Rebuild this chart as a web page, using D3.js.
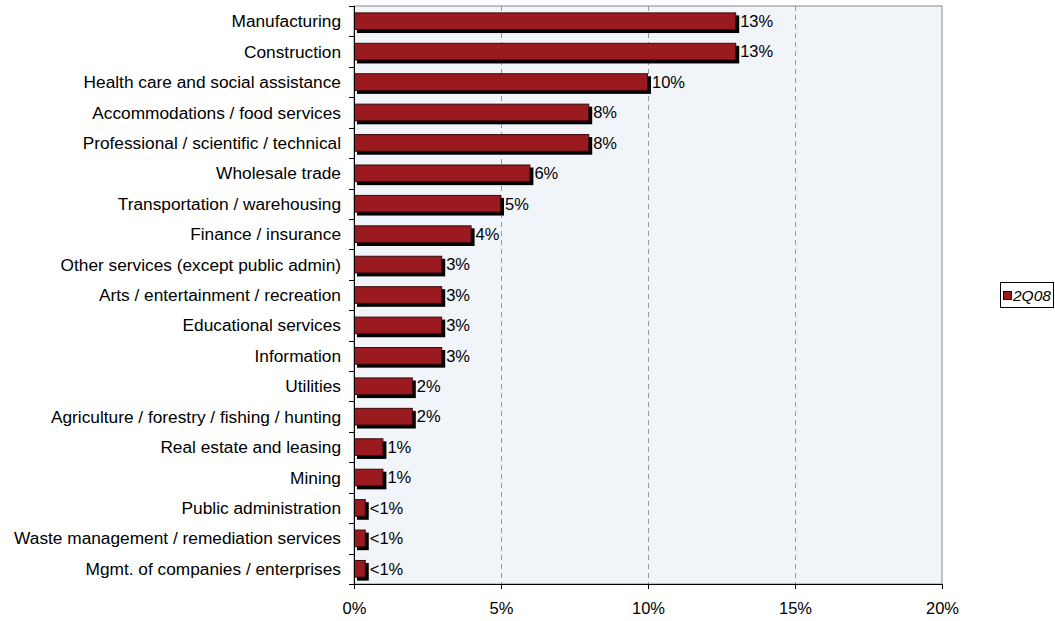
<!DOCTYPE html>
<html>
<head>
<meta charset="utf-8">
<script src="https://cdn.jsdelivr.net/npm/d3@7"></script>
<style>
  body { margin: 0; background: #fff; }
  text { font-family: "Liberation Sans", Arial, sans-serif; }
</style>
</head>
<body>
<svg id="chart" width="1055" height="621"></svg>
<script>
// categories, top to bottom
const categories = ["Manufacturing", "Construction", "Health care and social assistance",
  "Accommodations / food services", "Professional / scientific / technical", "Wholesale trade",
  "Transportation / warehousing", "Finance / insurance", "Other services (except public admin)",
  "Arts / entertainment / recreation", "Educational services", "Information", "Utilities",
  "Agriculture / forestry / fishing / hunting", "Real estate and leasing", "Mining",
  "Public administration", "Waste management / remediation services", "Mgmt. of companies / enterprises"]
const values = [13, 13, 10, 8, 8, 6, 5, 4, 3, 3, 3, 3, 2, 2, 1, 1, 0.4, 0.4, 0.4]
const valueLabels = ["13%", "13%", "10%", "8%", "8%", "6%", "5%", "4%", "3%", "3%", "3%", "3%",
  "2%", "2%", "1%", "1%", "<1%", "<1%", "<1%"]
const xTicks = [0, 5, 10, 15, 20]
const seriesName = "2Q08"

const BAR_COLOR = "#9A1A20"
const SHADOW = 3

const svg = d3.select('#chart')
const margin = { left: 354, top: 6, right: 113, bottom: 37 }
const width = 1055 - margin.left - margin.right
const height = 621 - margin.top - margin.bottom

const g = svg.append('g').attr('transform', `translate(${margin.left}, ${margin.top})`)

const x = d3.scaleLinear().domain([0, 20]).range([0, width])
const y = d3.scaleBand().domain(categories).range([0, height]).paddingInner(0.42).paddingOuter(0.21)
const band = d3.scaleBand().domain(categories).range([0, height])

// plot background
g.append('rect')
  .attr('width', width).attr('height', height)
  .attr('fill', '#F1F5FA')
  .attr('stroke', '#888').attr('stroke-width', 1)

// dashed gridlines
g.selectAll('.grid')
  .data(xTicks.filter(t => t > 0 && t < 20))
  .enter().append('line')
  .attr('x1', d => Math.round(x(d)) + 0.5).attr('x2', d => Math.round(x(d)) + 0.5)
  .attr('y1', 0).attr('y2', height)
  .attr('stroke', '#999').attr('stroke-dasharray', '5,4')

// bars: shadow then bar
const rows = g.selectAll('.row').data(categories).enter().append('g')

rows.append('rect')
  .attr('x', SHADOW)
  .attr('y', d => y(d) + SHADOW)
  .attr('width', (d, i) => x(values[i]))
  .attr('height', y.bandwidth())
  .attr('fill', '#000')

rows.append('rect')
  .attr('x', 0.5)
  .attr('y', d => y(d) + 0.5)
  .attr('width', (d, i) => x(values[i]) - 1)
  .attr('height', y.bandwidth() - 1)
  .attr('fill', BAR_COLOR)
  .attr('stroke', '#3a0a0c').attr('stroke-width', 1)

rows.append('text')
  .attr('x', (d, i) => x(values[i]) + SHADOW + 1)
  .attr('y', d => band(d) + band.bandwidth() / 2)
  .attr('dy', '0.35em')
  .attr('font-size', 16.5)
  .attr('fill', '#000')
  .text((d, i) => valueLabels[i])

// y axis
const yAxis = g.append('g')
yAxis.append('line')
  .attr('x1', 0.5).attr('x2', 0.5).attr('y1', 0).attr('y2', height)
  .attr('stroke', '#000')
yAxis.selectAll('.ytick')
  .data(d3.range(categories.length + 1))
  .enter().append('line')
  .attr('x1', -5).attr('x2', 0)
  .attr('y1', d => Math.round(d * band.step()) + 0.5)
  .attr('y2', d => Math.round(d * band.step()) + 0.5)
  .attr('stroke', '#000')
yAxis.selectAll('.ylabel')
  .data(categories)
  .enter().append('text')
  .attr('x', -13)
  .attr('y', d => band(d) + band.bandwidth() / 2)
  .attr('dy', '0.35em')
  .attr('text-anchor', 'end')
  .attr('font-size', 17.3)
  .text(d => d)

// x axis
const xAxis = g.append('g').attr('transform', `translate(0, ${height})`)
  .call(d3.axisBottom(x).tickValues(xTicks).tickFormat(d => d + '%').tickSize(5).tickPadding(13))
xAxis.select('.domain').attr('stroke', '#000')
xAxis.selectAll('text').attr('font-size', 16.5).attr('font-family', '"Liberation Sans", Arial, sans-serif')

// legend
const legend = svg.append('g').attr('transform', 'translate(1000, 282)')
legend.append('rect')
  .attr('x', 0.5).attr('y', 0.5).attr('width', 53).attr('height', 25)
  .attr('fill', '#fff').attr('stroke', '#000')
legend.append('rect')
  .attr('x', 3.5).attr('y', 9.5).attr('width', 8).attr('height', 8)
  .attr('fill', BAR_COLOR).attr('stroke', '#000')
legend.append('text')
  .attr('x', 13).attr('y', 13.5).attr('dy', '0.35em')
  .attr('font-size', 15.5).attr('font-style', 'italic')
  .text(seriesName)
</script>
</body>
</html>
